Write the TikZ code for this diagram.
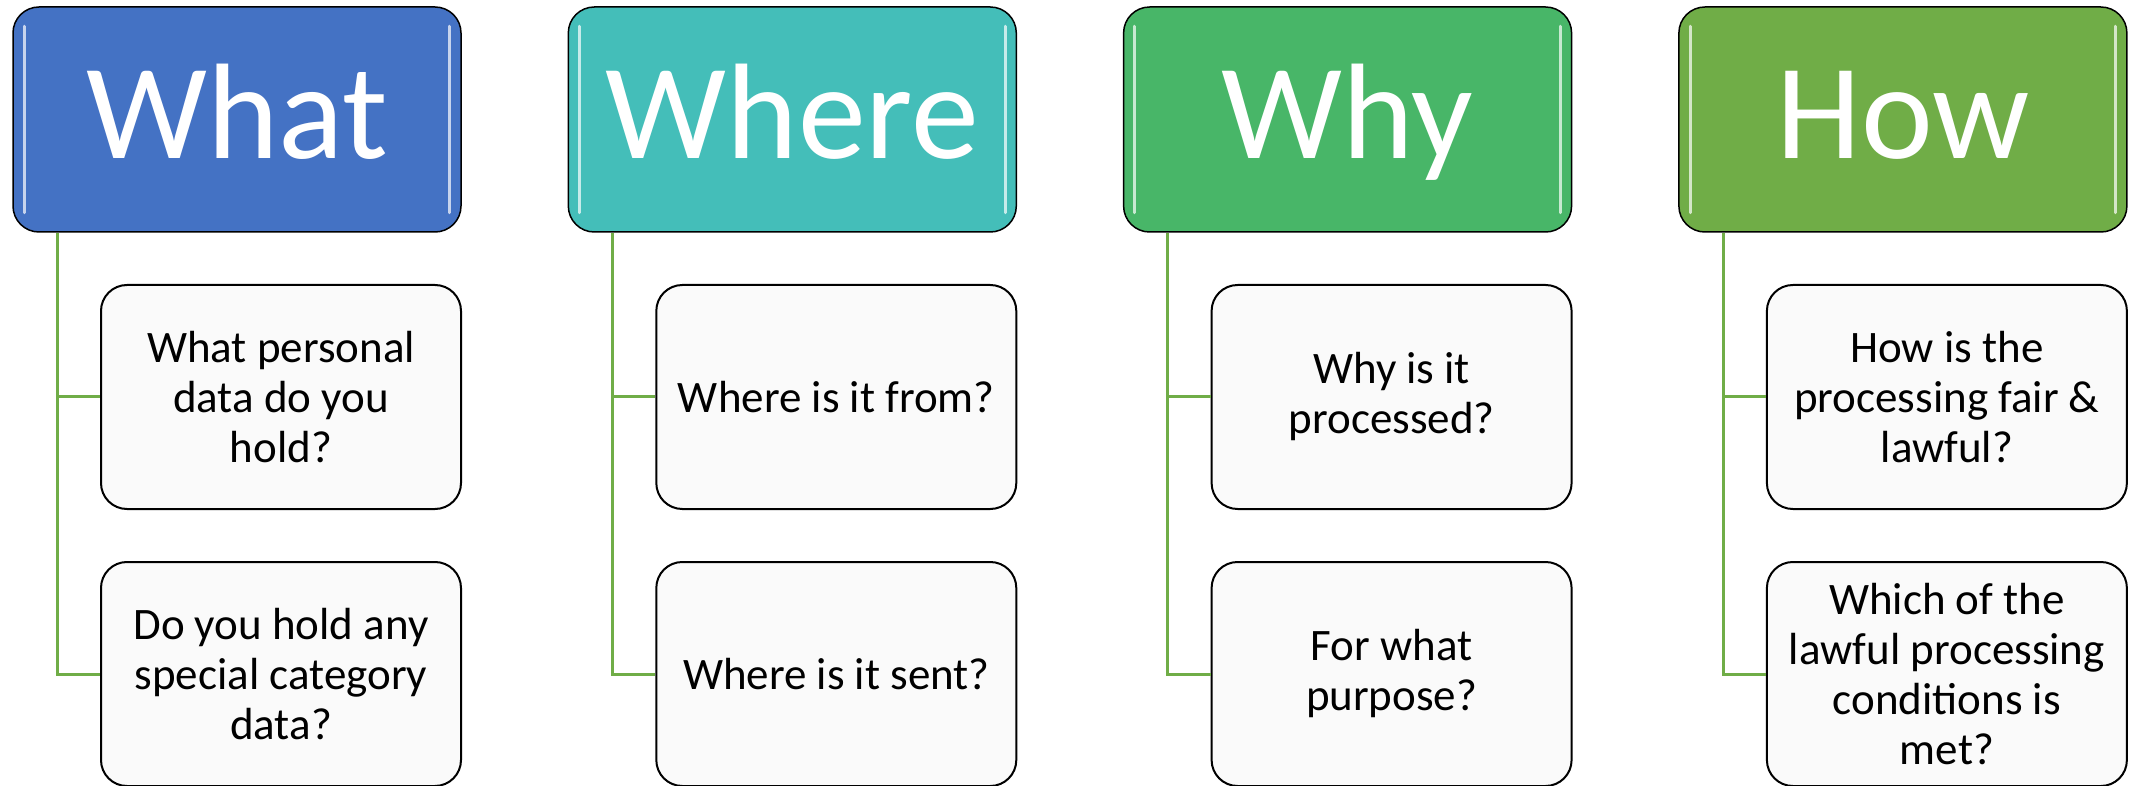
\documentclass[tikz,border=0pt]{standalone}
\usepackage{fontspec}
\setmainfont{Carlito}
\definecolor{whatblue}{HTML}{4472C4}
\definecolor{whereteal}{HTML}{44BEB9}
\definecolor{whygreen}{HTML}{48B668}
\definecolor{howgreen}{HTML}{70AD47}
\definecolor{linkgreen}{HTML}{70AD47}
\definecolor{itemgray}{HTML}{FAFAFA}
\def\colsep{555.3}

\begin{document}
\begin{tikzpicture}[x=0.5pt,y=-0.5pt]
  \tikzstyle{head}=[draw=black,line width=0.75pt,rounded corners=13pt,minimum width=224pt,minimum height=112.5pt,inner sep=0pt,text=white,font=\fontsize{68}{70}\selectfont,text height=39.5pt,text depth=0pt]
  \tikzstyle{item}=[draw=black,line width=1pt,fill=itemgray,rounded corners=13pt,minimum width=180pt,minimum height=112pt,inner sep=0pt,align=center,font=\fontsize{22.5}{25}\selectfont]
  \tikzstyle{link}=[draw=linkgreen,line width=1.5pt]
  \tikzstyle{shine}=[white,line width=1.5pt,line cap=round,opacity=0.7]

  \useasboundingbox (0,0) rectangle (2138,786);

  \foreach \name/\col/\fillc in {What/0/whatblue,Where/1/whereteal,Why/2/whygreen,How/3/howgreen}
    \node[head,fill=\fillc] (H-\col) at (237+\col*\colsep,119.5) {\name};

  \foreach \col/\top/\bot in {0/{What personal\\data do you\\hold?}/{Do you hold any\\special category\\data?},
                              1/{Where is it from?}/{Where is it sent?},
                              2/{Why is it\\processed?}/{For what\\purpose?},
                              3/{How is the\\processing fair \&\\lawful?}/{Which of the\\lawful processing\\conditions is\\met?}}
  {
    \node[item] (A-\col) at (281+\col*\colsep,397) {\top};
    \node[item] (B-\col) at (281+\col*\colsep,674) {\bot};
  }

  \foreach \col in {0,...,3}
  {
    \coordinate (T-\col) at ([xshift=22.5pt]H-\col.south west);
    \draw[link] (T-\col) |- (A-\col.west);
    \draw[link] (T-\col) |- (B-\col.west);
    \draw[shine] ([xshift=6pt,yshift=-10pt]H-\col.north west) -- ([xshift=6pt,yshift=10pt]H-\col.south west);
    \draw[shine] ([xshift=-6pt,yshift=-10pt]H-\col.north east) -- ([xshift=-6pt,yshift=10pt]H-\col.south east);
  }
\end{tikzpicture}
\end{document}
